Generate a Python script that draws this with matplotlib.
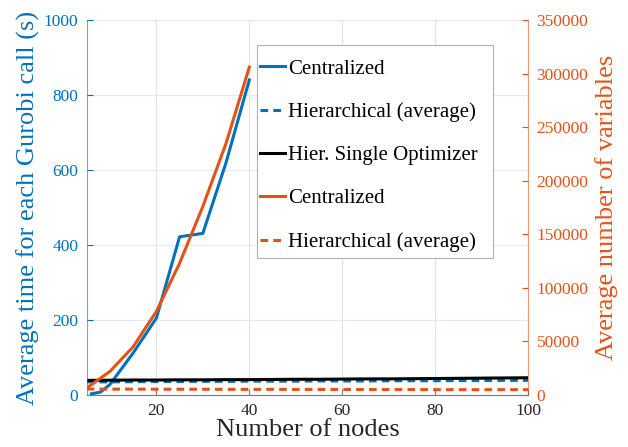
import matplotlib
matplotlib.use("Agg")
import matplotlib.pyplot as plt
from matplotlib.patches import Rectangle

# ---- data ----
x_cent_time = [6, 8, 10, 15, 20, 25, 30, 35, 40]
cent_time = [3, 8, 28, 112, 205, 422, 431, 620, 840]

x_all = [5, 10, 15, 20, 25, 30, 35, 40, 45, 50, 55, 60, 65, 70, 75, 80, 85, 90, 95, 100]
hier_time = [35, 35, 35.5, 36, 36, 36.5, 36.5, 37, 37, 37, 37.5, 37.5, 37.5, 38, 38, 38, 38.5, 38.5, 39, 39]
single_time = [39, 39.5, 40, 40, 40.5, 40.5, 41, 41, 41.5, 42, 42, 42.5, 43, 43, 43.5, 44, 44.5, 45, 45.5, 46]

x_cent_vars = [5, 10, 15, 20, 25, 30, 35, 40]
cent_vars = [6500, 22000, 45000, 78000, 123000, 176000, 235000, 306000]
hier_vars = [5600, 5500, 5500, 5400, 5400, 5400, 5300, 5300, 5300, 5200, 5200, 5200, 5100, 5100, 5100, 5000, 5000, 5000, 5000, 5000]

xticks = [20, 40, 60, 80, 100]
yticks_left = [0, 200, 400, 600, 800, 1000]
yticks_right = [0, 50000, 100000, 150000, 200000, 250000, 300000, 350000]

labels = ["Centralized", "Hierarchical (average)", "Hier. Single Optimizer",
          "Centralized", "Hierarchical (average)"]

# ---- style ----
BLUE = "#0072BD"
ORANGE = "#E65216"
DARK = "#262626"
plt.rcParams["font.family"] = ["Liberation Serif", "DejaVu Serif"]

fig = plt.figure(figsize=(6.28, 4.47), dpi=100)
ax = fig.add_axes([0.138, 0.1163, 0.703, 0.839])
ax2 = ax.twinx()

lw = 2.2
l1, = ax.plot(x_cent_time, cent_time, color=BLUE, lw=lw, label=labels[0])
l2, = ax.plot(x_all, hier_time, color=BLUE, lw=lw, ls=(0, (2.5, 1.7)), label=labels[1])
l3, = ax.plot(x_all, single_time, color="black", lw=lw, label=labels[2])
l4, = ax2.plot(x_cent_vars, cent_vars, color=ORANGE, lw=lw, label=labels[3])
l5, = ax2.plot(x_all, hier_vars, color=ORANGE, lw=lw, ls=(0, (2.5, 1.7)), label=labels[4])

ax.set_xlim(5, 100)
ax.set_ylim(0, 1000)
ax2.set_ylim(0, 350000)
ax.set_xticks(xticks)
ax.set_yticks(yticks_left)
ax2.set_yticks(yticks_right)

# grid
ax.set_axisbelow(True)
ax.xaxis.grid(True, color="#e3e3e3", lw=0.8)
ax.yaxis.grid(True, color="#dfeaf5", lw=0.8)

# spines
for a in (ax, ax2):
    a.spines["top"].set_visible(False)
ax.spines["left"].set_color(BLUE)
ax.spines["bottom"].set_color("#7a7a7a")
ax.spines["right"].set_visible(False)
ax2.spines["left"].set_visible(False)
ax2.spines["bottom"].set_visible(False)
ax2.spines["right"].set_color(ORANGE)
for s in ("left", "bottom"):
    ax.spines[s].set_linewidth(0.8)
ax2.spines["right"].set_linewidth(0.8)
ax2.spines["right"].set_alpha(0.6)
ax.spines["left"].set_alpha(0.6)

ax.tick_params(axis="y", direction="in", length=4, colors=BLUE, labelsize=12.5, pad=6)
ax.tick_params(axis="x", direction="in", length=4, colors="#7a7a7a", labelcolor=DARK, labelsize=12.5, pad=6)
ax2.tick_params(axis="y", direction="in", length=4, colors=ORANGE, labelsize=12.5, pad=6)

ax.set_xlabel("Number of nodes", fontsize=19, color=DARK, labelpad=0)
ax.set_ylabel("Average time for each Gurobi call (s)", fontsize=19, color=BLUE, labelpad=3)
ax2.set_ylabel("Average number of variables", fontsize=19, color=ORANGE, labelpad=5)

# legend box (MATLAB-style, drawn separately for its own padding)
box = Rectangle((0.386, 0.365), 0.535, 0.568, transform=ax2.transAxes,
                facecolor="white", edgecolor="#b0b0b0", lw=0.8, zorder=4)
ax2.add_patch(box)
leg = ax2.legend(handles=[l1, l2, l3, l4, l5], loc="upper left",
                 bbox_to_anchor=(0.3657, 0.928), borderaxespad=0,
                 fontsize=15, handlelength=1.2, handletextpad=0.15,
                 labelspacing=1.135, borderpad=0.58, frameon=False)
leg.set_zorder(5)

fig.savefig("out.png", dpi=100)
